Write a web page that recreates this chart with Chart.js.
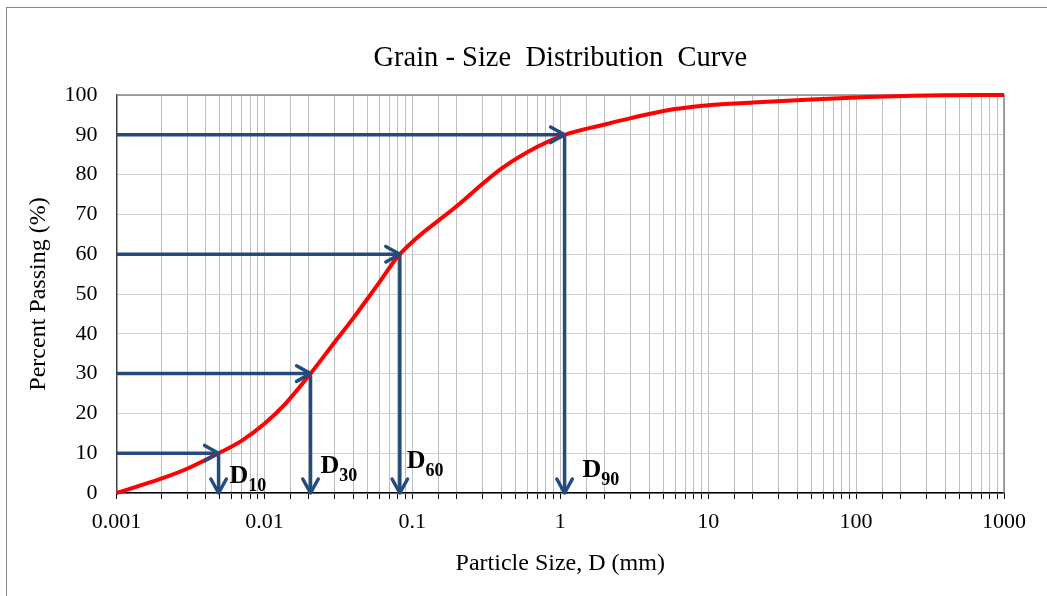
<!DOCTYPE html>
<html>
<head>
<meta charset="utf-8">
<script src="https://cdn.jsdelivr.net/npm/chart.js@4"></script>
<style>
  html, body { margin: 0; padding: 0; background: #fff; }
  canvas { display: block; }
</style>
</head>
<body>
<canvas id="c" width="1047" height="596"></canvas>
<script>
// ---- data ----
const sizeMm = [0.001, 0.002, 0.003, 0.0049, 0.007, 0.01, 0.014, 0.0205, 0.03, 0.04, 0.06, 0.0823, 0.2, 0.4, 0.7, 1.07, 2, 3, 5, 10, 20, 50, 100, 300, 1000];
const percentPassing = [0, 3.6, 6.1, 10, 13.1, 17.4, 22.6, 30, 38, 44, 53, 60, 72.1, 81.5, 87, 90, 92.6, 94.2, 96.0, 97.4, 98.1, 98.9, 99.4, 99.9, 100];
const dNames = ['10', '30', '60', '90'];
const dSizes = [0.0049, 0.0205, 0.0823, 1.07];
const dPercents = [10, 30, 60, 90];
const xTickLabels = ['0.001', '0.01', '0.1', '1', '10', '100', '1000'];
const yTickValues = [0, 10, 20, 30, 40, 50, 60, 70, 80, 90, 100];
const xMin = 0.001, xMax = 1000;

// ---- styles ----
const SERIF = "'Liberation Serif', 'Times New Roman', serif";
const ARROW = '#234b7e';
const labelOffsets = [[11, -10], [10, -20], [7, -25], [18, -16]]; // px from arrow x / axis bottom

const datasets = [];
dSizes.forEach((d, i) => {
  datasets.push({
    data: [{x: xMin, y: dPercents[i]}, {x: d, y: dPercents[i]}],
    arrow: true, borderColor: ARROW, borderWidth: 3.5, pointRadius: 0, showLine: true, clip: false, order: 2
  });
  datasets.push({
    data: [{x: d, y: dPercents[i]}, {x: d, y: 0}],
    arrow: true, borderColor: ARROW, borderWidth: 3.5, pointRadius: 0, showLine: true, clip: false, order: 2
  });
});
datasets.push({
  data: sizeMm.map((x, i) => ({x, y: percentPassing[i]})),
  borderColor: '#ff0000', borderWidth: 4, pointRadius: 0, showLine: true,
  cubicInterpolationMode: 'monotone', clip: false, order: 1
});

const framePlugin = {
  id: 'frame',
  beforeDraw(chart) {
    const ctx = chart.ctx;
    ctx.save();
    ctx.fillStyle = '#fff';
    ctx.fillRect(0, 0, chart.width, chart.height);
    ctx.strokeStyle = '#8a8a8a';
    ctx.lineWidth = 1;
    ctx.strokeRect(6.5, 7.5, 1200, 800);
    ctx.restore();
  },
  beforeDatasetsDraw(chart) {
    const {ctx, chartArea: a} = chart;
    ctx.save();
    ctx.strokeStyle = '#868686';
    ctx.lineWidth = 1.5;
    ctx.beginPath();
    ctx.moveTo(a.left, a.top);
    ctx.lineTo(a.right, a.top);
    ctx.lineTo(a.right, a.bottom);
    ctx.stroke();
    ctx.restore();
  },
  afterDatasetsDraw(chart) {
    const ctx = chart.ctx;
    ctx.save();
    chart.data.datasets.forEach((ds, di) => {
      if (!ds.arrow) return;
      const pts = chart.getDatasetMeta(di).data;
      const p1 = pts[pts.length - 2], p2 = pts[pts.length - 1];
      const ang = Math.atan2(p2.y - p1.y, p2.x - p1.x);
      const L = 16, h = Math.PI / 6.2;
      ctx.strokeStyle = ds.borderColor;
      ctx.lineWidth = 3.5;
      ctx.lineCap = 'round';
      ctx.lineJoin = 'round';
      ctx.beginPath();
      ctx.moveTo(p2.x - L * Math.cos(ang - h), p2.y - L * Math.sin(ang - h));
      ctx.lineTo(p2.x, p2.y);
      ctx.lineTo(p2.x - L * Math.cos(ang + h), p2.y - L * Math.sin(ang + h));
      ctx.stroke();
    });
    // D labels
    const xs = chart.scales.x, a = chart.chartArea;
    ctx.fillStyle = '#000';
    ctx.textBaseline = 'alphabetic';
    ctx.textAlign = 'left';
    dNames.forEach((n, i) => {
      const x = xs.getPixelForValue(dSizes[i]) + labelOffsets[i][0];
      const y = a.bottom + labelOffsets[i][1];
      ctx.font = 'bold 26px ' + SERIF;
      ctx.fillText('D', x, y);
      const w = ctx.measureText('D').width;
      ctx.font = 'bold 18px ' + SERIF;
      ctx.fillText(n, x + w, y + 7.5);
    });
    ctx.restore();
  }
};

new Chart(document.getElementById('c'), {
  type: 'scatter',
  data: { datasets },
  plugins: [framePlugin],
  options: {
    responsive: false,
    animation: false,
    layout: { padding: { left: 0, right: 43, top: 0, bottom: 0 } },
    plugins: {
      legend: { display: false },
      tooltip: { enabled: false },
      title: {
        display: true,
        fullSize: false,
        text: 'Grain - Size  Distribution  Curve',
        color: '#000',
        font: { family: SERIF, size: 28.5, weight: 'normal' },
        padding: { top: 41, bottom: 19.8 }
      }
    },
    scales: {
      x: {
        type: 'logarithmic',
        min: xMin, max: xMax,
        afterFit(s) { s.height = 103; },
        border: { color: '#000', width: 1.5 },
        grid: { color: '#bfbfbf', lineWidth: 1, tickColor: '#000', tickLength: 6, drawTicks: true },
        ticks: {
          autoSkip: false, maxRotation: 0, color: '#000', padding: 10,
          font: { family: SERIF, size: 22 },
          callback(v) {
            const e = Math.log10(v), r = Math.round(e);
            if (Math.abs(e - r) < 1e-6) return xTickLabels[r + 3];
            return '';
          }
        },
        title: {
          display: true, text: 'Particle Size, D (mm)', color: '#000',
          font: { family: SERIF, size: 24 }, padding: { top: 0, bottom: 17.6 }
        }
      },
      y: {
        min: 0, max: 100,
        afterFit(s) { s.width = 116.5; },
        afterBuildTicks(s) { s.ticks = yTickValues.map(v => ({value: v})); },
        border: { color: '#404040', width: 1.5 },
        grid: { color: '#d0d0d0', lineWidth: 1, drawTicks: false },
        ticks: {
          color: '#000', padding: 19,
          font: { family: SERIF, size: 22 }
        },
        title: {
          display: true, text: 'Percent Passing (%)', color: '#000',
          font: { family: SERIF, size: 24 }, padding: { top: 24.6, bottom: 0 }
        }
      }
    }
  }
});
</script>
</body>
</html>
